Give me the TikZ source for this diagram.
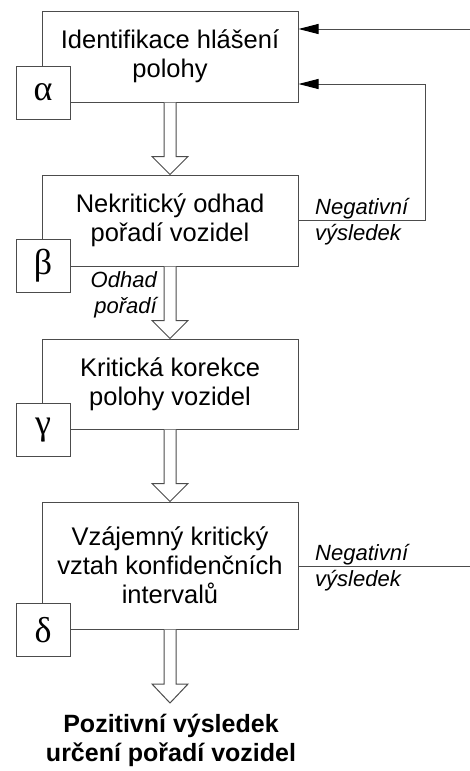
\documentclass[tikz,border=0pt]{standalone}
\usepackage{fontspec}
\setmainfont{Liberation Sans}
\newfontfamily\greekfont{Liberation Serif}
\usetikzlibrary{arrows.meta,calc}

\tikzset{
  lineclr/.style={draw=black!70, line width=1pt},
  procbox/.style={lineclr, rectangle, minimum width=256pt, inner sep=0pt,
    align=center, font=\fontsize{25.5}{29}\selectfont},
  tagbox/.style={lineclr, fill=white, minimum width=54pt, minimum height=53pt,
    inner sep=0pt, font=\greekfont\fontsize{36}{36}\selectfont},
  fbline/.style={lineclr, -{Triangle[length=20pt,width=10pt,color=black]}},
  note/.style={font=\itshape\fontsize{22}{26}\selectfont, inner sep=0pt, align=left},
  hollow/.style={lineclr, fill=white, line join=miter},
}

% hollow block arrow: shaft from #1 down to the tip #2, head length #3
\newcommand\blockarrow[3]{%
  \draw[hollow] let \p1=(#1), \p2=(#2) in
    (\x1-6pt,\y1) -- (\x1-6pt,\y2+#3) -- (\x1-18pt,\y2+#3) -- (\x1,\y2)
    -- (\x1+18pt,\y2+#3) -- (\x1+6pt,\y2+#3) -- (\x1+6pt,\y1);
}

\begin{document}
\begin{tikzpicture}[x=1pt,y=-1pt]
  \useasboundingbox (0,0) rectangle (470,771);

  % process steps
  \node[procbox, minimum height=91pt]  (b1) at (170,56.5)  {Identifikace hlášení\\polohy};
  \node[procbox, minimum height=91pt]  (b2) at (170,220.5) {Nekritický odhad\\pořadí vozidel};
  \node[procbox, minimum height=90pt]  (b3) at (170,384)   {Kritická korekce\\polohy vozidel};
  \node[procbox, minimum height=127pt] (b4) at (170,565.5) {Vzájemný kritický\\vztah konfidenčních\\intervalů};

  % step tags
  \node[tagbox] (ta) at (43,92.5) {α};
  \node[tagbox] (tb) at (43,266)  {β};
  \node[tagbox] (tg) at (43,430)  {γ};
  \node[tagbox] (td) at (43,630)  {δ};

  % flow between steps
  \coordinate (out) at (170,703);
  \blockarrow{b1.south}{b2.north}{18pt}
  \blockarrow{b2.south}{b3.north}{18pt}
  \blockarrow{b3.south}{b4.north}{18pt}
  \blockarrow{b4.south}{out}{19pt}

  \node[font=\bfseries\fontsize{25}{29}\selectfont, align=center, anchor=north, inner sep=0pt]
    (res) at (171,714) {Pozitivní výsledek\\určení pořadí vozidel};

  % feedback lines
  \coordinate (in1) at (470,29);
  \draw[fbline] (in1) -- (b1.east |- in1);
  \coordinate (fb) at (425,84);
  \draw[fbline] (b2.east) -| (fb) -- (b1.east |- fb);
  \coordinate (out2) at (470,566);
  \draw[lineclr] (b4.east |- out2) -- (out2);

  % labels (base anchor sits on the last line)
  \node[note, anchor=base west] (n1) at (315,240) {Negativní\\výsledek};
  \node[note, anchor=base west] (n2) at (315,586) {Negativní\\výsledek};
  \node[note, anchor=base east, align=right] (n3) at (157,313) {Odhad\\pořadí};
\end{tikzpicture}
\end{document}
